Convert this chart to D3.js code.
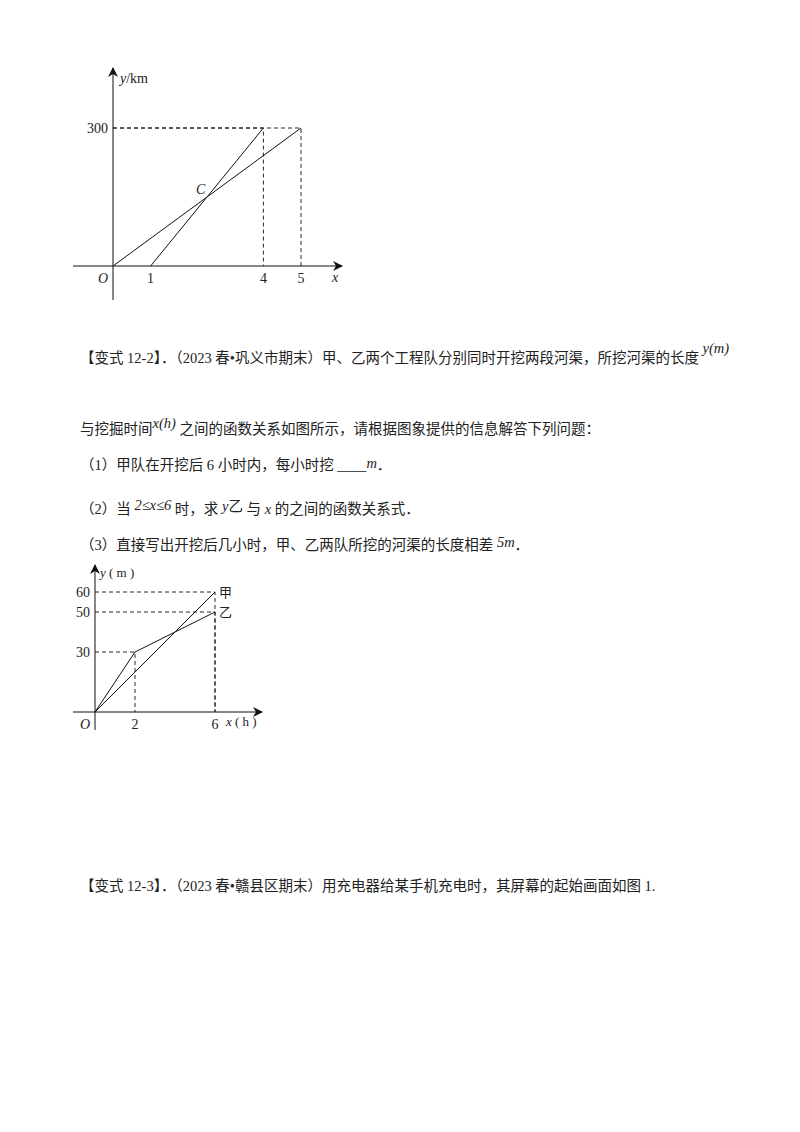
<!DOCTYPE html>
<html><head><meta charset="utf-8">
<script src="https://cdn.jsdelivr.net/npm/d3@7"></script>
<style>
body{margin:0;background:#fff}
text{font-family:"Liberation Serif","Noto Sans CJK SC",serif;fill:#222}
</style></head><body>
<svg id="page" width="800" height="1132"></svg>
<script>
// chart 1: two trips, y in km
const trip1 = [[0, 0], [5, 300]];
const trip2 = [[1, 0], [4, 300]];
const xTicks1 = [1, 4, 5];
const yTicks1 = [300];

// chart 2: 甲 / 乙 digging length (m)
const jia = [[0, 0], [6, 60]];
const yi = [[0, 0], [2, 30], [6, 50]];
const xTicks2 = [2, 6];
const yTicks2 = [30, 50, 60];

// each line: pieces of [text, italic?, dy]
const lines = [
  {y: 363, p: [["【变式 12-2】．（2023 春•巩义市期末）甲、乙两个工程队分别同时开挖两段河渠，所挖河渠的长度 "], ["y(m)", 1, -10]]},
  {y: 434, p: [["与挖掘时间"], ["x(h)", 1, -6], [" 之间的函数关系如图所示，请根据图象提供的信息解答下列问题：", 0, 6]]},
  {y: 470, p: [["（1）甲队在开挖后 6 小时内，每小时挖 ____"], ["m", 1, -2], ["．", 0, 2]]},
  {y: 514, p: [["（2）当 "], ["2≤x≤6", 1, -4], [" 时，求 ", 0, 4], ["y", 1, -3], ["乙", 0, 0], [" 与 ", 0, 3], ["x", 1], [" 的之间的函数关系式．"]]},
  {y: 550, p: [["（3）直接写出开挖后几小时，甲、乙两队所挖的河渠的长度相差 "], ["5m", 1, -3], ["．", 0, 3]]},
  {y: 891, p: [["【变式 12-3】．（2023 春•赣县区期末）用充电器给某手机充电时，其屏幕的起始画面如图 1."]]}
];

const svg = d3.select("#page");
svg.append("defs").append("marker").attr("id", "arr").attr("viewBox", "0 0 10 10")
  .attr("refX", 9).attr("refY", 5).attr("markerWidth", 10).attr("markerHeight", 10)
  .attr("markerUnits", "userSpaceOnUse").attr("orient", "auto")
  .append("path").attr("d", "M0,0L10,5L0,10L3,5Z").attr("fill", "#111");

function drawChart(o) {
  const g = svg.append("g");
  const x = d3.scaleLinear().domain([0, 1]).range([o.ox, o.ox + o.ux]);
  const y = d3.scaleLinear().domain([0, 1]).range([o.oy, o.oy - o.uy]);
  g.append("line").attr("x1", o.xAxis[0]).attr("x2", o.xAxis[1]).attr("y1", o.oy).attr("y2", o.oy)
    .attr("stroke", "#111").attr("marker-end", "url(#arr)");
  g.append("line").attr("x1", o.ox).attr("x2", o.ox).attr("y1", o.yAxis[0]).attr("y2", o.yAxis[1])
    .attr("stroke", "#111").attr("marker-end", "url(#arr)");
  o.guides.forEach(([gx, gy]) => {
    g.append("path").attr("d", `M${x(0)},${y(gy)}H${x(gx)}V${y(0)}`)
      .attr("fill", "none").attr("stroke", "#111").attr("stroke-dasharray", "4,3").attr("stroke-width", 0.9);
  });
  const line = d3.line().x(d => x(d[0])).y(d => y(d[1]));
  o.series.forEach(s => g.append("path").attr("d", line(s)).attr("fill", "none")
    .attr("stroke", "#111").attr("stroke-width", 1));
  o.xTicks.forEach(t => g.append("text").attr("x", x(t)).attr("y", o.oy + 17)
    .attr("text-anchor", "middle").attr("font-size", 14).text(t));
  o.yTicks.forEach(t => g.append("text").attr("x", o.ox - 5).attr("y", y(t) + 5)
    .attr("text-anchor", "end").attr("font-size", 14).text(t));
  g.append("text").attr("x", o.ox - 10).attr("y", o.oy + 17).attr("font-style", "italic")
    .attr("text-anchor", "middle").attr("font-size", 14).text("O");
  return g;
}

const g1 = drawChart({ox: 113, oy: 266, ux: 37.6, uy: 138 / 300, xAxis: [73, 342], yAxis: [300, 68],
  guides: [[4, 300], [5, 300]], series: [trip1, trip2], xTicks: xTicks1, yTicks: yTicks1});
g1.append("text").attr("x", 120).attr("y", 83).attr("font-size", 14).html('<tspan font-style="italic">y</tspan>/km');
g1.append("text").attr("x", 332).attr("y", 282).attr("font-size", 14).attr("font-style", "italic").text("x");
g1.append("text").attr("x", 196).attr("y", 194).attr("font-size", 14).attr("font-style", "italic").text("C");

const g2 = drawChart({ox: 95, oy: 712, ux: 20, uy: 2, xAxis: [73, 262], yAxis: [730, 565],
  guides: [[2, 30], [6, 50], [6, 60]], series: [jia, yi], xTicks: xTicks2, yTicks: yTicks2});
g2.append("text").attr("x", 100).attr("y", 577).attr("font-size", 13).html('<tspan font-style="italic">y</tspan> ( m )');
g2.append("text").attr("x", 226).attr("y", 726).attr("font-size", 13).html('<tspan font-style="italic">x</tspan> ( h )');
g2.append("text").attr("x", 219).attr("y", 597).attr("font-size", 13).attr("fill", "#555").text("甲");
g2.append("text").attr("x", 219).attr("y", 617).attr("font-size", 13).attr("fill", "#555").text("乙");

const body = svg.selectAll("text.body").data(lines).enter().append("text").attr("class", "body")
  .attr("x", 80).attr("y", d => d.y).attr("font-size", 14.5);
body.selectAll("tspan").data(d => d.p).enter().append("tspan")
  .attr("font-style", d => d[1] ? "italic" : null)
  .attr("dy", d => d[2] || 0)
  .text(d => d[0]);
</script></body></html>
